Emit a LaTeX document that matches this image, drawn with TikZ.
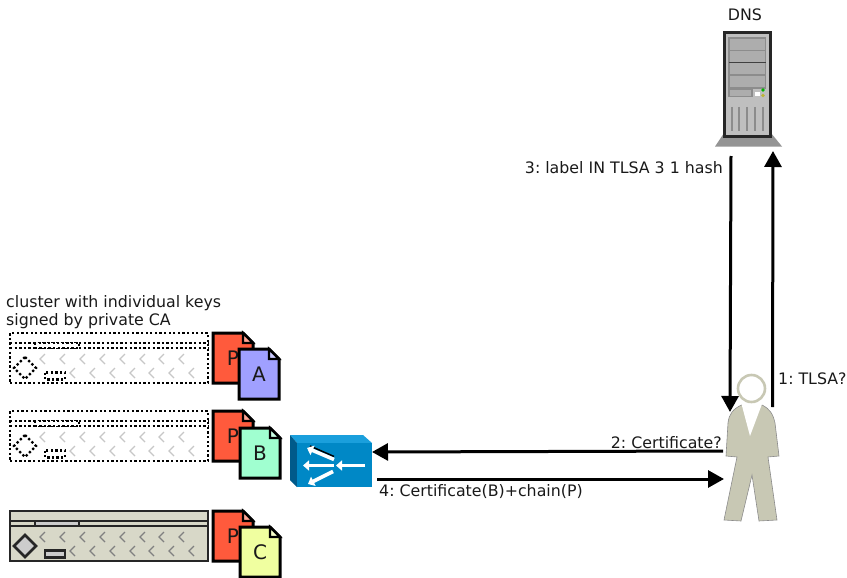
\documentclass[tikz,border=0pt]{standalone}
\usepackage{fontspec}
\setmainfont{DejaVu Sans}
\usetikzlibrary{arrows.meta}
\definecolor{redP}{HTML}{FF5A3C}
\definecolor{docA}{HTML}{A0A0FF}
\definecolor{docB}{HTML}{A0FFD0}
\definecolor{docC}{HTML}{F0FFA0}
\definecolor{khaki}{HTML}{D8D8C8}
\definecolor{personc}{HTML}{C8C8B4}
\definecolor{swtop}{HTML}{1A9FDC}
\definecolor{swfront}{HTML}{0088C6}
\definecolor{swside}{HTML}{005A8A}
\tikzset{
 lbl/.style={font=\fontsize{15.8}{18}\selectfont,text=black!90,inner sep=0pt},
 flow/.style={line width=3pt,-{Triangle[length=16pt,width=17pt]},black},
 dotline/.style={draw=black,line width=2.3pt,dash pattern=on 2.3pt off 2.3pt},
 solidline/.style={draw=black!85,line width=2.5pt},
 wharrow/.style={white,line width=3.6pt,-{Triangle[length=6pt,width=10pt]}},
}
% \docsheet{x}{y}{fill}{letter}{name}
\newcommand{\docsheet}[5]{
 \fill[#3,draw=black,line width=3pt] (#1,#2) -- (#1+30,#2) -- (#1+40,#2+10) -- (#1+40,#2+50) -- (#1,#2+50) -- cycle;
 \fill[#3!55!white,draw=black,line width=2.2pt] (#1+30,#2) -- (#1+30,#2+10) -- (#1+40,#2+10) -- cycle;
 \node[lbl,font=\fontsize{20}{22}\selectfont] (#5) at (#1+20,#2+25) {#4};
}
% \rackbox{y}{style}{fill}{chevron colour}{name}{inner fill}
\newcommand{\rackbox}[6]{
 \node[minimum width=198pt,minimum height=50pt,inner sep=0pt,#2,fill=#3] (#5) at (109,#1+25) {};
 \draw[#2] (10,#1+10) -- (208,#1+10) (10,#1+15) -- (208,#1+15);
 \draw[#2,fill=#6] (35,#1+10) rectangle (79,#1+15);
 \draw[#2,fill=#6] (25,#1+24) -- (36,#1+35) -- (25,#1+46) -- (14,#1+35) -- cycle;
 \draw[#2,fill=#6] (45,#1+39.5) rectangle (65,#1+46.5);
 \foreach \cx in {40,60,80,100,120,140,159,179}
  \draw[#4,line width=1.2pt] (\cx+5,#1+21) -- (\cx,#1+26) -- (\cx+5,#1+31);
 \foreach \cx in {70,90,110,130,149,169,189}
  \draw[#4,line width=1.2pt] (\cx+5,#1+35) -- (\cx,#1+40) -- (\cx+5,#1+45);
}
\begin{document}
\frenchspacing
\begin{tikzpicture}[x=1pt,y=-1pt]
\useasboundingbox (0,0) rectangle (847,578);

% racks
\rackbox{333}{dotline}{white}{black!22}{rackA}{white}
\rackbox{411}{dotline}{white}{black!22}{rackB}{white}
\rackbox{511}{solidline}{khaki}{black!50}{rackC}{black!20}

% documents
\docsheet{213}{333}{redP}{P}{pA}
\docsheet{239}{349}{docA}{A}{dA}
\docsheet{213}{411}{redP}{P}{pB}
\docsheet{240}{428}{docB}{B}{dB}
\docsheet{213}{511}{redP}{P}{pC}
\docsheet{240}{527}{docC}{C}{dC}

% switch
\fill[swtop] (290,435) -- (363,435) -- (372,443) -- (297,443) -- cycle;
\fill[swside] (290,435) -- (297,443) -- (297,487) -- (290,480) -- cycle;
\node[fill=swfront,minimum width=75pt,minimum height=44pt,inner sep=0pt] (switch) at (334.5,465) {};
\draw[black,line width=1.5pt] (334,456.5) -- (310,446);
\draw[wharrow] (365,465.5) -- (336,465.5);
\draw[wharrow] (334,465.5) -- (303,465.5);
\draw[wharrow] (334,459.5) -- (307,448);
\draw[wharrow] (333,471.5) -- (308,484);

% server
\fill[black!42] (724,133) -- (715,146.5) -- (782,146.5) -- (771,133) -- cycle;
\node[draw=black!85,fill=black!25,line width=2.6pt,minimum width=46pt,minimum height=104pt,inner sep=0pt] (dns) at (747.5,84.5) {};
\draw[black!45,fill=black!32,line width=1.1pt] (729,38) rectangle (765.5,88);
\draw[black!45,line width=1.1pt] (729,50.5) -- (765.5,50.5);
\draw[black!75,line width=1.1pt] (729,62.5) -- (765.5,62.5);
\draw[black!45,line width=1.1pt] (729,75) -- (765.5,75);
\draw[black!45,fill=black!32,line width=1.1pt] (729,89) rectangle (752,96.5);
\fill[white] (754.5,92) rectangle (759.5,96);
\fill[green!70!black] (763,90) circle (1.8pt);
\fill[yellow!70!black] (763,95.5) circle (1.8pt);
\foreach \vx in {732,739,747,755,763}
 \draw[black!45,line width=1.1pt] (\vx,107) -- (\vx,131);

% person
\fill[personc,draw=black!45,line width=.6pt] (741.5,405) .. controls (733,409) and (729,414) .. (728,423) -- (726,456) -- (737,457) -- (724,520) -- (741,521) -- (752,475) -- (759,521) -- (777,520) -- (768,457) -- (779,456) -- (775,423) .. controls (773,414) and (770,409) .. (762,405) -- cycle;
\fill[white] (741.5,404) -- (762,404) -- (750,436) -- cycle;
\node[circle,draw=personc,fill=white,line width=2.6pt,minimum size=27pt,inner sep=0pt] (head) at (751.5,388.5) {};

% connector ends
\coordinate (dnsA) at (731,156);
\coordinate (persA) at (730,412);
\coordinate (persB) at (772.5,407);
\coordinate (dnsB) at (773,151);
\coordinate (persC) at (723,451);
\coordinate (swC) at (372,452);
\coordinate (swD) at (377,479);
\coordinate (persD) at (724,479);

\draw[flow] (dnsA) -- (persA);
\draw[flow] (persB) -- (dnsB);
\draw[flow] (persC) -- (swC);
\draw[flow] (swD) -- (persD);

% labels
\node[lbl] (ldns) at (745,15) {DNS};
\node[lbl,anchor=east] (l3) at (723,168) {3: label IN TLSA 3 1 hash};
\node[lbl,anchor=west] (l1) at (778,379) {1: TLSA?};
\node[lbl,anchor=east] (l2) at (722,443) {2: Certificate?};
\node[lbl,anchor=west] (l4) at (379,492) {4: Certificate(B)+chain(P)};
\node[lbl,anchor=west] (lc1) at (6,303) {cluster with individual keys};
\node[lbl,anchor=west] (lc2) at (6,321) {signed by private CA};
\end{tikzpicture}
\end{document}
